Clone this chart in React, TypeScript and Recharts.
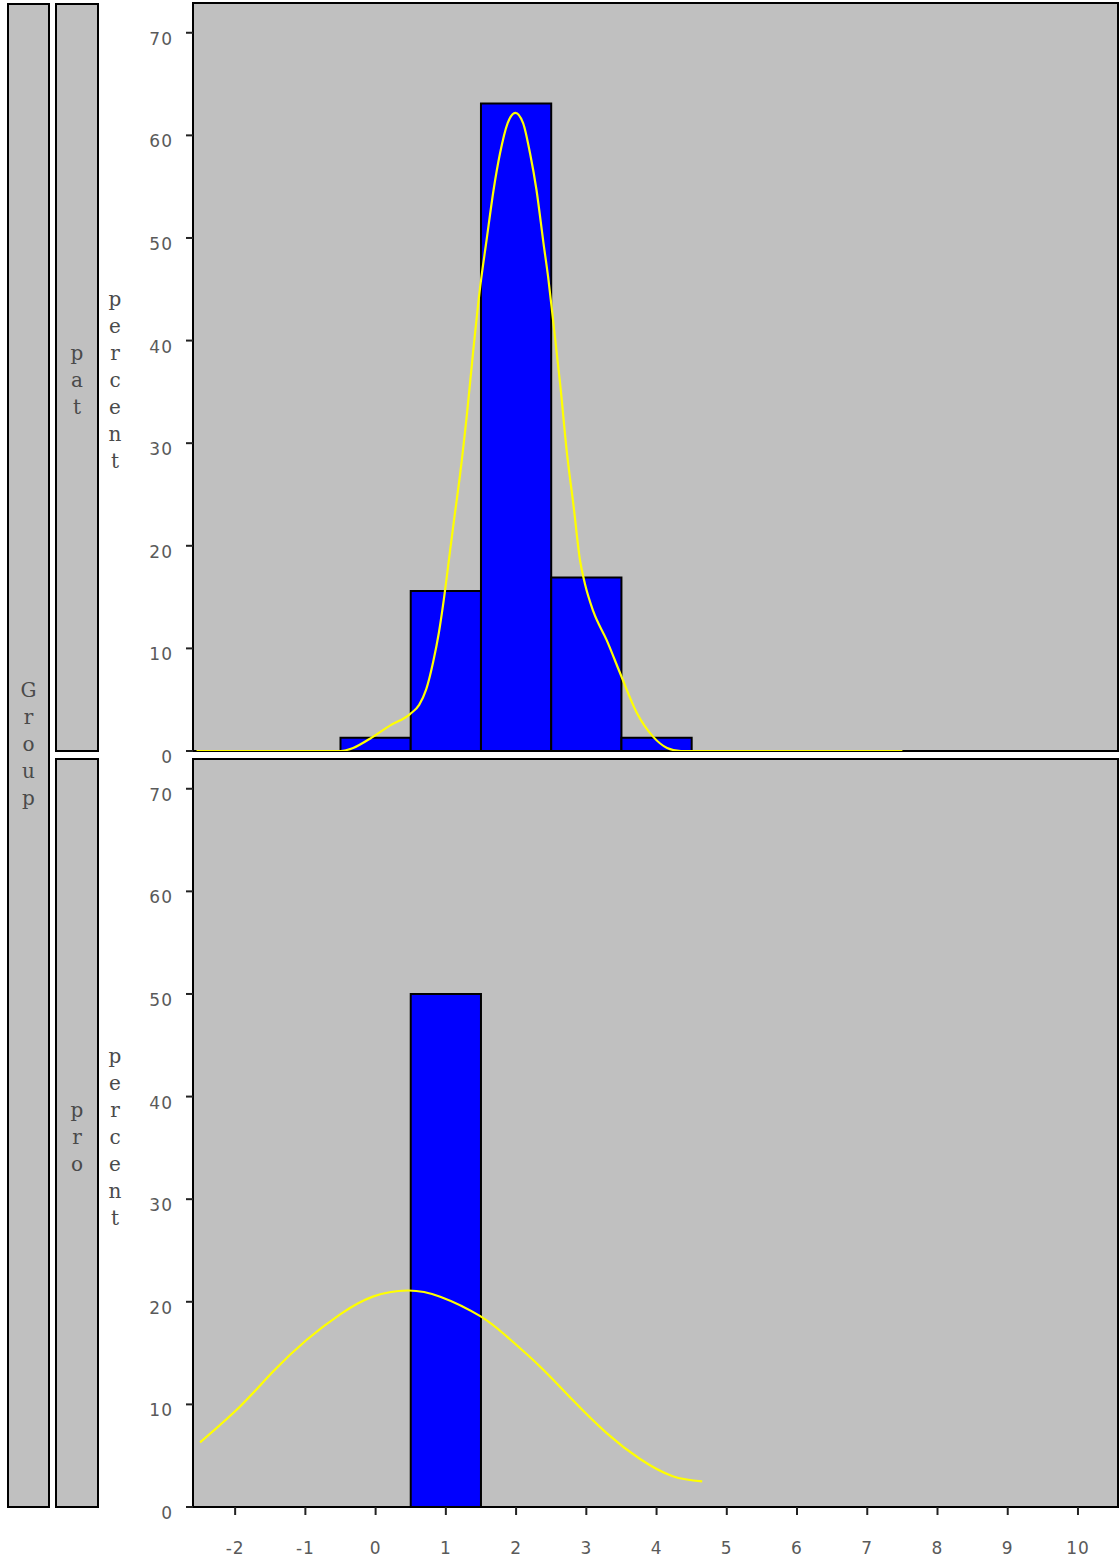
import React from 'react';
import { ComposedChart, Line, XAxis, YAxis, ReferenceArea } from 'recharts';

// ---- data ----
const xTicks = [-2, -1, 0, 1, 2, 3, 4, 5, 6, 7, 8, 9, 10];
const yTicks = [0, 10, 20, 30, 40, 50, 60, 70];

const patBinStart = [-0.5, 0.5, 1.5, 2.5, 3.5];
const patBinEnd = [0.5, 1.5, 2.5, 3.5, 4.5];
const patPercent = [1.3, 15.6, 63.1, 16.9, 1.3];

const proBinStart = [0.5];
const proBinEnd = [1.5];
const proPercent = [50.0];

const patCurveX = [-2.55, -0.5, -0.32, -0.08, 0.21, 0.49, 0.62, 0.72, 0.82, 0.9, 0.97, 1.06, 1.13, 1.2, 1.3, 1.39, 1.49, 1.58, 1.68, 1.77, 1.88, 1.99, 2.1, 2.2, 2.29, 2.39, 2.46, 2.53, 2.63, 2.72, 2.82, 2.91, 2.98, 3.1, 3.29, 3.48, 3.72, 3.95, 4.15, 4.35, 7.5];
const patCurveY = [0, 0, 0.3, 1.2, 2.5, 3.6, 4.5, 6.0, 8.7, 11.5, 14.7, 19.5, 23.2, 26.8, 32.8, 39.0, 45.3, 49.8, 54.7, 58.2, 61.2, 62.2, 61.2, 58.2, 54.7, 49.5, 46.0, 41.8, 35.6, 29.3, 23.8, 18.6, 16.3, 13.6, 10.8, 7.6, 3.7, 1.4, 0.3, 0, 0];

const proCurveX = [-2.5, -1.93, -1.46, -0.98, -0.5, -0.04, 0.45, 0.92, 1.49, 1.87, 2.34, 2.81, 3.29, 3.76, 4.23, 4.65];
const proCurveY = [6.3, 9.8, 13.2, 16.3, 18.8, 20.5, 21.1, 20.5, 18.6, 16.6, 13.7, 10.4, 7.2, 4.7, 3.0, 2.5];

const xDomain: [number, number] = [-2.6, 10.57];
const yDomain: [number, number] = [0, 72.9];

// ---- styles ----
const tickFont = '"DejaVu Sans", Verdana, sans-serif';
const tickColor = '#5a5a5a';
const labelFont = '"DejaVu Serif", "Liberation Serif", serif';
const labelColor = '#4a4a4a';

const patCurve = patCurveX.map((x, i) => ({ x, y: patCurveY[i] }));
const proCurve = proCurveX.map((x, i) => ({ x, y: proCurveY[i] }));

const YTick = (props: any) => {
  const { x, y, payload } = props;
  return (
    <text x={x} y={y + 6} textAnchor="end" dominantBaseline="central" fontFamily={tickFont} fontSize={17} letterSpacing={1} fill={tickColor}>
      {payload.value}
    </text>
  );
};

const XTick = (props: any) => {
  const { x, y, payload } = props;
  return (
    <text x={x} y={y} textAnchor="middle" dominantBaseline="central" fontFamily={tickFont} fontSize={17} letterSpacing={1} fill={tickColor}>
      {payload.value}
    </text>
  );
};

const box = (left: number, top: number, width: number, height: number): React.CSSProperties => ({
  position: 'absolute',
  left,
  top,
  width,
  height,
  boxSizing: 'border-box',
  border: '2px solid #000',
  background: '#c0c0c0',
});

const VText = ({ text, left, top, width, height }: { text: string; left: number; top: number; width: number; height: number }) => (
  <div
    style={{
      position: 'absolute',
      left,
      top,
      width,
      height,
      display: 'flex',
      alignItems: 'center',
      justifyContent: 'center',
    }}
  >
    <span
      style={{
        writingMode: 'vertical-lr',
        textOrientation: 'upright',
        fontFamily: labelFont,
        fontSize: 20,
        color: labelColor,
        letterSpacing: 3,
        lineHeight: 1,
      }}
    >
      {text}
    </span>
  </div>
);

const Panel = ({
  top,
  height,
  margin,
  showX,
  binStart,
  binEnd,
  percent,
  curve,
  curveType,
}: {
  top: number;
  height: number;
  margin: any;
  showX: boolean;
  binStart: number[];
  binEnd: number[];
  percent: number[];
  curve: { x: number; y: number }[];
  curveType: any;
}) => (
  <div style={{ position: 'absolute', left: 0, top }}>
    <ComposedChart width={1119} height={height} margin={margin} style={{ overflow: 'visible' }}>
      <XAxis
        type="number"
        dataKey="x"
        domain={xDomain}
        ticks={xTicks}
        allowDataOverflow
        hide={!showX}
        height={50}
        axisLine={false}
        tickLine={{ stroke: '#222', strokeWidth: 2 }}
        tickSize={8}
        tickMargin={33}
        tick={<XTick />}
        interval={0}
      />
      <YAxis
        type="number"
        domain={yDomain}
        ticks={yTicks}
        allowDataOverflow
        width={193}
        axisLine={false}
        tickLine={{ stroke: '#222', strokeWidth: 2 }}
        tickSize={7}
        tickMargin={13}
        tick={<YTick />}
        interval={0}
      />
      {binStart.map((s, i) => (
        <ReferenceArea
          key={i}
          x1={s}
          x2={binEnd[i]}
          y1={0}
          y2={percent[i]}
          fill="#0000ff"
          fillOpacity={1}
          stroke="#000"
          strokeWidth={2}
        />
      ))}
      <Line
        data={curve}
        dataKey="y"
        type={curveType}
        stroke="#ffff00"
        strokeWidth={2.2}
        dot={false}
        isAnimationActive={false}
      />
    </ComposedChart>
  </div>
);

export default function App() {
  return (
    <div style={{ position: 'absolute', left: 0, top: 0, width: 1119, height: 1565, background: '#fff' }}>
      {/* strips */}
      <div style={box(7, 3, 43, 1505)} />
      <div style={box(55, 3, 44, 749)} />
      <div style={box(55, 758, 44, 750)} />
      {/* plot frames */}
      <div style={box(192, 2, 927, 750)} />
      <div style={box(192, 758, 927, 750)} />

      <VText text="Group" left={7} top={3} width={43} height={1485} />
      <VText text="pat" left={55} top={3} width={44} height={757} />
      <VText text="pro" left={55} top={758} width={44} height={760} />
      <VText text="percent" left={100} top={3} width={30} height={757} />
      <VText text="percent" left={100} top={758} width={30} height={760} />

      <Panel
        top={0}
        height={775}
        margin={{ top: 3, right: 1, bottom: 24, left: 0 }}
        showX={false}
        binStart={patBinStart}
        binEnd={patBinEnd}
        percent={patPercent}
        curve={patCurve}
        curveType="monotone"
      />
      <Panel
        top={751}
        height={814}
        margin={{ top: 8, right: 1, bottom: 8, left: 0 }}
        showX={true}
        binStart={proBinStart}
        binEnd={proBinEnd}
        percent={proPercent}
        curve={proCurve}
        curveType="natural"
      />
    </div>
  );
}
